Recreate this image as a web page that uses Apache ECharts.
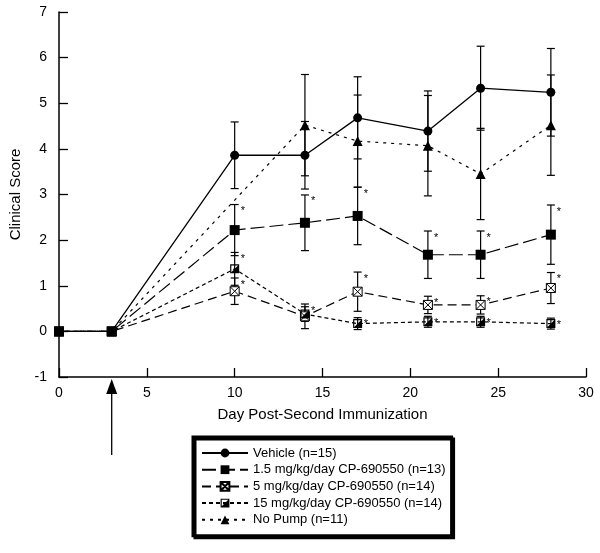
<!DOCTYPE html>
<html>
<head>
<meta charset="utf-8">
<script src="https://cdn.jsdelivr.net/npm/echarts@6/dist/echarts.min.js"></script>
<style>html,body{margin:0;padding:0;background:#fff}#c{width:600px;height:553px}</style>
</head>
<body>
<div id="c"></div>
<script>
// ---- data ----
var days = [0, 3, 10, 14, 17, 21, 24, 28];
var seriesNames = ['Vehicle (n=15)', '1.5 mg/kg/day CP-690550 (n=13)', '5 mg/kg/day CP-690550 (n=14)', '15 mg/kg/day CP-690550 (n=14)', 'No Pump (n=11)'];
var vehicleMean = [0, 0, 3.86, 3.86, 4.68, 4.39, 5.33, 5.24];
var vehicleErr  = [0, 0, 0.73, 0.74, 0.90, 0.88, 0.92, 0.96];
var dose1_5Mean = [0, 0, 2.22, 2.38, 2.53, 1.68, 1.68, 2.12];
var dose1_5Err  = [0, 0, 0.56, 0.61, 0.63, 0.52, 0.52, 0.65];
var dose1_5Sig  = [0, 0, 1, 1, 1, 1, 1, 1];
var dose5Mean   = [0, 0, 0.88, 0.33, 0.87, 0.58, 0.58, 0.95];
var dose5Err    = [0, 0, 0.29, 0.27, 0.43, 0.19, 0.20, 0.34];
var dose5Sig    = [0, 0, 1, 1, 1, 1, 1, 1];
var dose15Mean  = [0, 0, 1.37, 0.38, 0.17, 0.21, 0.21, 0.17];
var dose15Err   = [0, 0, 0.36, 0.16, 0.13, 0.12, 0.12, 0.12];
var dose15Sig   = [0, 0, 1, 0, 1, 1, 1, 1];
var noPumpMean  = [0, 0, null, 4.52, 4.17, 4.07, 3.45, 4.52];
var noPumpErr   = [0, 0, null, 1.11, 1.01, 1.10, 1.00, 1.10];
var yTicks = [-1, 0, 1, 2, 3, 4, 5, 6, 7];
var xTicks = [0, 5, 10, 15, 20, 25, 30];
var arrowDay = 3;

var FONT = 'Liberation Sans, Arial, Helvetica, sans-serif';
var chart = echarts.init(document.getElementById('c'), null, {renderer: 'canvas'});

function pts(mean) { return days.map(function (d, i) { return [d, mean[i]]; }); }
function errData(mean, err, sig) {
  var out = [];
  days.forEach(function (d, i) {
    if (mean[i] == null) return;
    out.push([d, mean[i], err[i], sig ? sig[i] : 0]);
  });
  return out;
}
function renderErr(params, api) {
  var x = api.value(0), m = api.value(1), e = api.value(2), s = api.value(3);
  var children = [];
  var top = api.coord([x, m + e]);
  var bot = api.coord([x, m - e]);
  var hw = 4;
  var st = {stroke: '#000', lineWidth: 1.2};
  if (e > 0) {
    children.push({type: 'line', shape: {x1: top[0], y1: top[1], x2: bot[0], y2: bot[1]}, style: st});
    children.push({type: 'line', shape: {x1: top[0] - hw, y1: top[1], x2: top[0] + hw, y2: top[1]}, style: st});
    children.push({type: 'line', shape: {x1: bot[0] - hw, y1: bot[1], x2: bot[0] + hw, y2: bot[1]}, style: st});
  }
  if (s) {
    children.push({type: 'text', style: {text: '*', x: top[0] + 6, y: top[1] + 1, font: '11px ' + FONT, fill: '#000', textAlign: 'left', textVerticalAlign: 'top'}});
  }
  return {type: 'group', children: children};
}
function errSeries(mean, err, sig) {
  return {type: 'custom', renderItem: renderErr, data: errData(mean, err, sig), z: 1, silent: true,
    encode: {x: 0, y: 1}, animation: false};
}

var symCross = 'path://M0,0L10,0L10,10L0,10ZM0,0L10,10M10,0L0,10';
var symHalf = 'path://M0,0L10,0L10,10L0,10ZM1.3,1.3L1.3,8.7L8.7,8.7L8.7,1.3ZM8.7,1.3L8.7,8.7L1.3,8.7Z';

var option = {
  animation: false,
  textStyle: {fontFamily: FONT, color: '#000'},
  grid: {left: 57, right: 14, top: 12, bottom: 176, containLabel: false},
  xAxis: {
    type: 'value', min: 0, max: 30, interval: 5,
    name: 'Day Post-Second Immunization', nameLocation: 'middle', nameGap: 30,
    nameTextStyle: {fontSize: 15, color: '#000', fontFamily: FONT},
    axisLine: {onZero: false, lineStyle: {color: '#000', width: 1.5}},
    axisTick: {inside: true, length: 9, lineStyle: {color: '#000', width: 1.3}},
    axisLabel: {fontSize: 14, color: '#000', margin: 9, fontFamily: FONT,
      customValues: xTicks},
    splitLine: {show: false}
  },
  yAxis: {
    type: 'value', min: -1, max: 7, interval: 1,
    name: 'Clinical Score', nameLocation: 'middle', nameGap: 36,
    nameTextStyle: {fontSize: 15, color: '#000', fontFamily: FONT},
    axisLine: {onZero: false, lineStyle: {color: '#000', width: 1.5}},
    axisTick: {inside: true, length: 9, lineStyle: {color: '#000', width: 1.3}},
    axisLabel: {fontSize: 14, color: '#000', margin: 12, fontFamily: FONT},
    splitLine: {show: false}
  },
  legend: {
    data: seriesNames,
    orient: 'vertical', left: 193, top: 437,
    padding: [9, 6, 9, 8],
    itemWidth: 46, itemHeight: 11, itemGap: 2.7, itemTextGap: 5,
    textStyle: {fontSize: 13, color: '#000', fontFamily: FONT, lineHeight: 14},
    backgroundColor: '#fff', borderColor: '#000', borderWidth: 3, borderRadius: 0,
    shadowColor: '#000', shadowBlur: 0, shadowOffsetX: 2, shadowOffsetY: 2,
    selectedMode: false
  },
  series: [
    errSeries(vehicleMean, vehicleErr, null),
    errSeries(dose1_5Mean, dose1_5Err, dose1_5Sig),
    errSeries(dose5Mean, dose5Err, dose5Sig),
    errSeries(dose15Mean, dose15Err, dose15Sig),
    errSeries(noPumpMean, noPumpErr, null),
    {name: seriesNames[4], type: 'line', data: pts(noPumpMean), connectNulls: true, z: 2,
      symbol: 'triangle', symbolSize: 10, itemStyle: {color: '#000'},
      lineStyle: {color: '#000', width: 1.2, type: [3, 5]}},
    {name: seriesNames[0], type: 'line', data: pts(vehicleMean), z: 2,
      symbol: 'circle', symbolSize: 9, itemStyle: {color: '#000'},
      lineStyle: {color: '#000', width: 1.3, type: 'solid'}},
    {name: seriesNames[2], type: 'line', data: pts(dose5Mean), z: 2,
      symbol: symCross, symbolSize: 9, itemStyle: {color: '#fff', borderColor: '#000', borderWidth: 1},
      lineStyle: {color: '#000', width: 1.2, type: [9, 5]}},
    {name: seriesNames[3], type: 'line', data: pts(dose15Mean), z: 2,
      symbol: symHalf, symbolSize: 9, itemStyle: {color: '#000'},
      lineStyle: {color: '#000', width: 1.2, type: [4, 3]}},
    {name: seriesNames[1], type: 'line', data: pts(dose1_5Mean), z: 2,
      symbol: 'rect', symbolSize: 10, itemStyle: {color: '#000'},
      lineStyle: {color: '#000', width: 1.2, type: [14, 5]}}
  ]
};
chart.setOption(option);

var ax = chart.convertToPixel({xAxisIndex: 0}, arrowDay);
var ay = chart.convertToPixel({yAxisIndex: 0}, yTicks[0]);
chart.setOption({
  graphic: [
    {type: 'line', shape: {x1: ax, y1: ay + 14, x2: ax, y2: 455}, style: {stroke: '#000', lineWidth: 1.3}},
    {type: 'polygon', shape: {points: [[ax, ay + 2], [ax - 5.5, ay + 17], [ax + 5.5, ay + 17]]}, style: {fill: '#000'}}
  ]
});
</script>
</body>
</html>
